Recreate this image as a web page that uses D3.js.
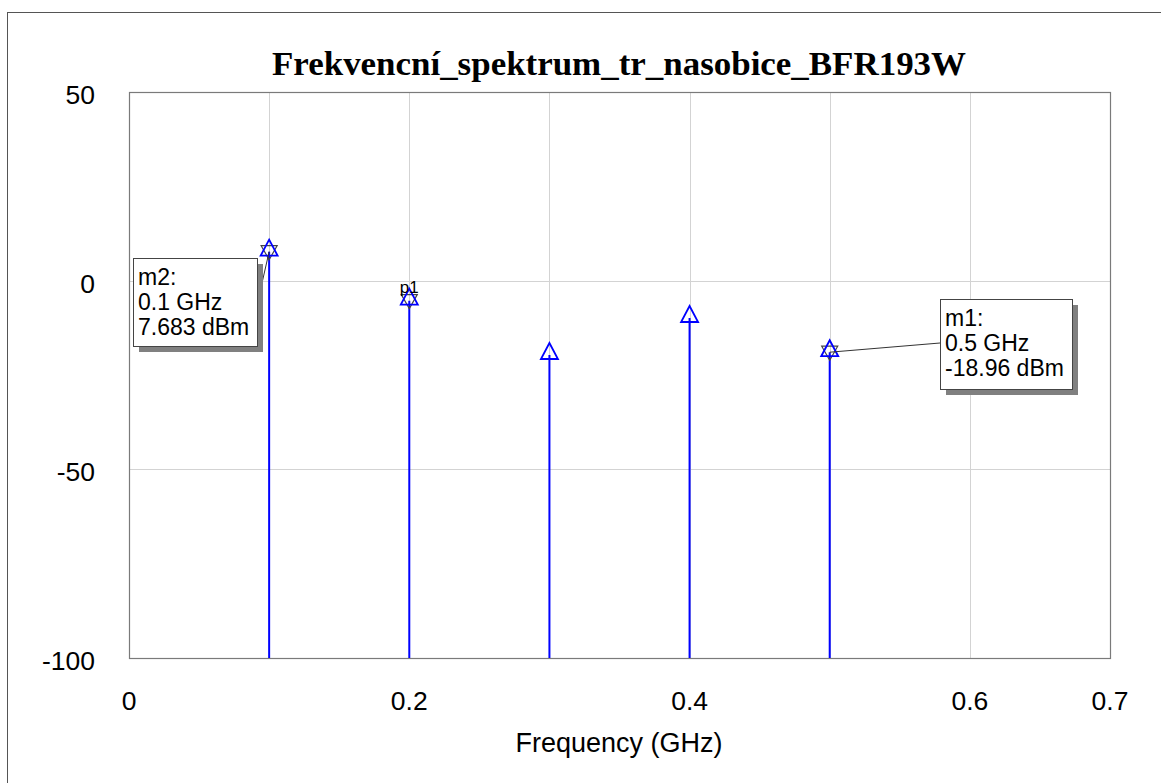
<!DOCTYPE html>
<html>
<head>
<meta charset="utf-8">
<script src="https://cdn.jsdelivr.net/npm/d3@7"></script>
<style>
  body { margin: 0; background: #fff; }
  svg { display: block; }
</style>
</head>
<body>
<svg id="chart"></svg>
<script>
// Spectrum lines (GHz, dBm)
const freqs = [0.1, 0.2, 0.3, 0.4, 0.5];
const powers = [7.683, -5.3, -19.7, -9.9, -18.96];
const xTicks = [0, 0.1, 0.2, 0.3, 0.4, 0.5, 0.6, 0.7];
const xTickLabels = ['0', '', '0.2', '', '0.4', '', '0.6', '0.7'];
const yTicks = [50, 0, -50, -100];

// markers: name, index into freqs, boxed readout or plain label
const markers = [
  { name: 'm2', idx: 0, box: true },
  { name: 'p1', idx: 1, box: false },
  { name: 'm1', idx: 4, box: true }
];

const width = 1161, height = 783;
const plotLeft = 129, plotRight = 1110, plotTop = 92, plotBottom = 658;
const sans = 'Liberation Sans, Arial, sans-serif';

const svg = d3.select('#chart').attr('width', width).attr('height', height);

// outer frame
svg.append('rect')
  .attr('x', 7.5).attr('y', 12.5)
  .attr('width', width).attr('height', height)
  .attr('fill', 'none').attr('stroke', '#555').attr('stroke-width', 1);

const x = d3.scaleLinear().domain([0, 0.7]).range([plotLeft, plotRight]);
const y = d3.scaleLinear().domain([-100, 50]).range([plotBottom, plotTop]);

// grid
const grid = svg.append('g');
grid.selectAll('line.gx').data(xTicks.slice(1, -1)).join('line')
  .attr('x1', d => Math.round(x(d)) + 0.5).attr('x2', d => Math.round(x(d)) + 0.5)
  .attr('y1', plotTop).attr('y2', plotBottom)
  .attr('stroke', '#d3d3d3').attr('stroke-width', 1);
grid.selectAll('line.gy').data(yTicks.slice(1, -1)).join('line')
  .attr('x1', plotLeft).attr('x2', plotRight)
  .attr('y1', d => Math.round(y(d)) + 0.5).attr('y2', d => Math.round(y(d)) + 0.5)
  .attr('stroke', '#d3d3d3').attr('stroke-width', 1);

// plot frame
svg.append('rect')
  .attr('x', plotLeft + 0.5).attr('y', plotTop + 0.5)
  .attr('width', plotRight - plotLeft).attr('height', plotBottom - plotTop)
  .attr('fill', 'none').attr('stroke', '#7a7a7a').attr('stroke-width', 1.2);

// tick labels
svg.append('g').selectAll('text').data(yTicks).join('text')
  .attr('x', 95).attr('y', d => y(d) + 12)
  .attr('text-anchor', 'end')
  .attr('font-family', sans)
  .attr('font-size', 26.5).attr('fill', '#000')
  .text(d => d);

svg.append('g').selectAll('text').data(xTicks).join('text')
  .attr('x', d => x(d)).attr('y', 710)
  .attr('text-anchor', 'middle')
  .attr('font-family', sans)
  .attr('font-size', 26.5).attr('fill', '#000')
  .text((d, i) => xTickLabels[i]);

svg.append('text')
  .attr('x', 619).attr('y', 752)
  .attr('text-anchor', 'middle')
  .attr('font-family', sans)
  .attr('font-size', 27).attr('fill', '#000')
  .text('Frequency (GHz)');

// title
svg.append('text')
  .attr('x', 619).attr('y', 75)
  .attr('text-anchor', 'middle')
  .attr('font-family', 'Liberation Serif, Times New Roman, serif')
  .attr('font-weight', 'bold')
  .attr('font-size', 33)
  .attr('textLength', 694).attr('lengthAdjust', 'spacingAndGlyphs')
  .attr('fill', '#000')
  .text('Frekvencní_spektrum_tr_nasobice_BFR193W');

// stems
const data = freqs.map((f, i) => ({ f, p: powers[i] }));
svg.append('g').selectAll('line').data(data).join('line')
  .attr('x1', d => x(d.f)).attr('x2', d => x(d.f))
  .attr('y1', d => y(d.p)).attr('y2', plotBottom)
  .attr('stroke', '#0000ff').attr('stroke-width', 2);

// triangle markers: tip 12px above the value, base 4px below
const tri = (cx, cy) => `M${cx},${cy - 12} L${cx + 8.5},${cy + 4} L${cx - 8.5},${cy + 4} Z`;
const triDown = (cx, cy) => `M${cx},${cy + 8} L${cx + 8},${cy - 6} L${cx - 8},${cy - 6} Z`;

// marker overlays (inverted triangles)
svg.append('g').selectAll('path').data(markers).join('path')
  .attr('d', m => triDown(x(freqs[m.idx]), y(powers[m.idx])))
  .attr('fill', 'none').attr('stroke', '#444').attr('stroke-width', 1.2);

svg.append('g').selectAll('path').data(data).join('path')
  .attr('d', d => tri(x(d.f), y(d.p)))
  .attr('fill', 'none').attr('stroke', '#0000ff').attr('stroke-width', 1.8);

// p1 label
markers.filter(m => !m.box).forEach(m => {
  svg.append('text')
    .attr('x', x(freqs[m.idx])).attr('y', y(powers[m.idx]) - 8)
    .attr('text-anchor', 'middle')
    .attr('font-family', sans)
    .attr('font-size', 17).attr('fill', '#000')
    .text(m.name);
});

// readout boxes
const boxPos = { m2: { bx: 133, by: 258, w: 124, h: 88, lx: 262, ly: 283 },
                 m1: { bx: 940, by: 299, w: 132, h: 90, lx: 940, ly: 343 } };
markers.filter(m => m.box).forEach(m => {
  const b = boxPos[m.name];
  const f = freqs[m.idx], p = powers[m.idx];
  // leader
  svg.append('line')
    .attr('x1', x(f)).attr('y1', y(p))
    .attr('x2', b.lx).attr('y2', b.ly)
    .attr('stroke', '#333').attr('stroke-width', 1);
  // shadow
  svg.append('rect')
    .attr('x', b.bx + 6).attr('y', b.by + 6).attr('width', b.w).attr('height', b.h)
    .attr('fill', '#808080');
  svg.append('rect')
    .attr('x', b.bx + 0.5).attr('y', b.by + 0.5).attr('width', b.w).attr('height', b.h)
    .attr('fill', '#fff').attr('stroke', '#444').attr('stroke-width', 1);
  const lines = [m.name + ':', f + ' GHz', p + ' dBm'];
  svg.append('g').selectAll('text').data(lines).join('text')
    .attr('x', b.bx + 5).attr('y', (d, i) => b.by + 27 + i * 25)
    .attr('font-family', sans)
    .attr('font-size', 23).attr('fill', '#000')
    .text(d => d);
});
</script>
</body>
</html>
